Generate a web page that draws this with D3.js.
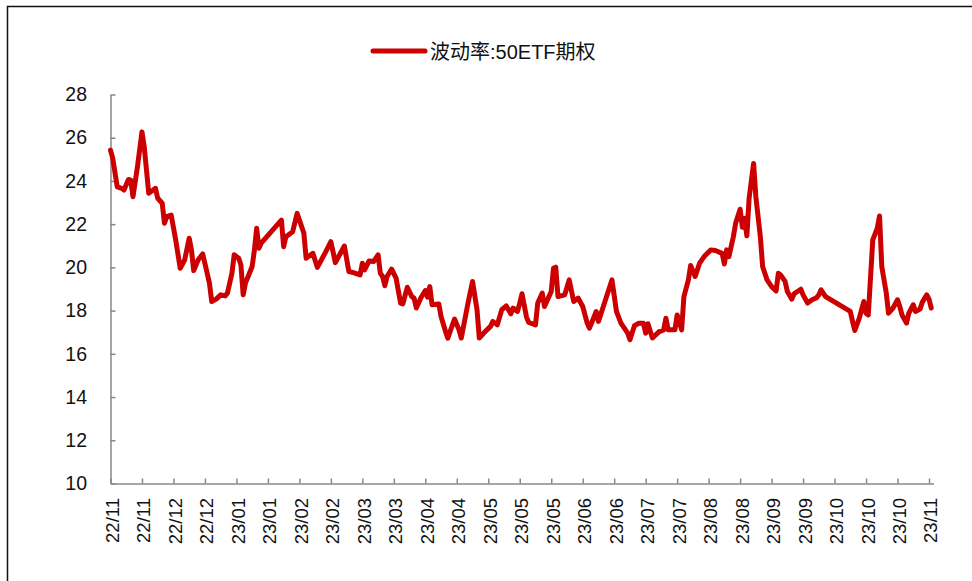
<!DOCTYPE html>
<html><head><meta charset="utf-8">
<script src="https://cdn.jsdelivr.net/npm/d3@7"></script>
<style>body{margin:0;background:#fff;} svg{display:block;}</style>
</head><body><svg id="c" width="972" height="581"></svg>
<script>
const seriesName = "波动率:50ETF期权";
const startDate = "2022-11-14";
const endDate = "2023-11-15";
const tickStepDays = 14;
const tickLabels = ["22/11","22/11","22/12","22/12","23/01","23/01","23/02","23/02","23/03","23/03","23/04","23/04","23/05","23/05","23/05","23/06","23/06","23/07","23/07","23/08","23/08","23/09","23/09","23/10","23/10","23/10","23/11"];
const yTicks = [10,12,14,16,18,20,22,24,26,28];
// days since startDate
const dayOffset = [0,1,3,5,6,8,9,10,12,14,15,17,19,20,21,23,24,25,27,29,31,33,35,36,37,39,41,43,44,45,47,49,51,52,54,55,57,58,59,60,63,64,65,66,67,76,77,78,81,83,86,87,90,92,95,98,100,104,106,108,111,112,113,115,117,119,120,121,122,123,125,127,129,130,132,134,135,136,138,140,141,142,143,146,147,149,150,153,155,156,159,161,163,164,166,169,170,172,174,176,178,179,181,182,183,185,186,189,190,192,193,195,196,197,198,199,202,204,206,208,210,212,213,216,217,223,225,227,230,231,233,235,237,238,239,241,244,246,247,248,251,252,254,255,257,258,260,262,264,267,269,272,273,274,275,277,278,280,281,282,283,284,286,287,289,290,292,294,296,297,298,300,301,303,304,307,308,310,312,314,315,316,318,329,330,331,333,335,336,337,339,341,342,343,345,346,348,350,351,352,354,355,357,358,360,361,363,364,365];
const volatility = [25.43,25.04,23.73,23.66,23.58,24.07,24.04,23.27,24.66,26.27,25.58,23.43,23.58,23.66,23.2,22.97,22.04,22.35,22.42,21.27,19.96,20.35,21.35,20.81,19.85,20.35,20.62,19.73,19.27,18.42,18.53,18.73,18.68,18.81,19.73,20.58,20.42,20.11,18.73,19.27,20.04,20.81,21.81,20.89,21.12,22.19,20.96,21.42,21.65,22.5,21.58,20.42,20.65,20.0,20.58,21.19,20.22,20.99,19.81,19.76,19.65,20.19,19.88,20.3,20.27,20.58,19.73,19.58,19.15,19.58,19.92,19.5,18.35,18.31,19.08,18.65,18.58,18.12,18.58,18.93,18.62,19.11,18.27,18.31,17.73,17.03,16.73,17.61,17.11,16.73,18.35,19.35,18.04,16.73,16.96,17.27,17.5,17.34,18.04,18.22,17.85,18.12,17.96,18.35,18.78,17.7,17.45,17.34,18.35,18.81,18.19,18.65,18.88,19.96,20.01,18.65,18.73,19.42,18.42,18.58,18.19,17.42,17.19,17.96,17.5,19.42,17.96,17.42,16.96,16.65,17.3,17.42,17.42,16.96,17.39,16.73,17.03,17.11,17.65,17.11,17.11,17.8,17.11,18.65,19.42,20.09,19.58,20.2,20.5,20.81,20.78,20.65,20.16,20.81,20.5,21.42,22.04,22.69,21.86,22.27,21.46,23.2,24.81,23.27,21.42,20.04,19.42,19.11,18.91,19.73,19.65,19.35,18.89,18.53,18.78,18.99,18.73,18.35,18.5,18.6,18.73,18.96,18.65,17.96,17.5,17.08,17.65,18.42,17.88,17.8,21.27,21.81,22.38,20.04,18.81,17.88,18.12,18.5,18.19,17.8,17.42,17.88,18.27,17.96,18.07,18.38,18.73,18.53,18.12];

const svg = d3.select("#c");
const FONT = "'Liberation Sans', Arial, 'Noto Sans CJK SC', sans-serif";
const parse = d3.utcParse("%Y-%m-%d");
const t0 = parse(startDate);
const addDays = (d, n) => new Date(d.getTime() + n * 86400000);

const x = d3.scaleUtc().domain([t0, parse(endDate)]).range([110.5, 933.5]);
const y = d3.scaleLinear().domain([10, 28]).range([483.5, 94.5]);

// outer frame
svg.append("rect").attr("x", 7.5).attr("y", 6.5).attr("width", 1100).attr("height", 800)
  .attr("fill", "none").attr("stroke", "#111").attr("stroke-width", 1.5);

// y axis
const yAxis = svg.append("g").attr("transform", `translate(${x.range()[0]},0)`)
  .call(d3.axisLeft(y).tickValues(yTicks).tickSizeInner(-5).tickSizeOuter(0).tickPadding(23.5).tickFormat(d3.format("d")));
yAxis.select(".domain").attr("stroke", "#888").attr("stroke-width", 1.5);
yAxis.selectAll(".tick line").attr("stroke", "#888").attr("stroke-width", 1.5);
yAxis.selectAll("text").attr("font-family", FONT).attr("font-size", 19.5).attr("fill", "#111");

// x axis
const tickDates = tickLabels.map((_, i) => addDays(t0, i * tickStepDays));
const xAxis = svg.append("g").attr("transform", `translate(0,${y.range()[0]})`)
  .call(d3.axisBottom(x).tickValues(tickDates).tickSizeInner(-5).tickSizeOuter(0).tickFormat((d, i) => tickLabels[i]));
xAxis.select(".domain").attr("stroke", "#888").attr("stroke-width", 1.5);
xAxis.selectAll(".tick line").attr("stroke", "#888").attr("stroke-width", 1.5);
xAxis.selectAll("text")
  .attr("font-family", FONT).attr("font-size", 18.5).attr("fill", "#111")
  .attr("transform", "rotate(-90)")
  .attr("text-anchor", "end")
  .attr("x", -14.5).attr("y", 1.5).attr("dy", "0.35em");

// series line
const data = dayOffset.map((d, i) => ({ date: addDays(t0, d), v: volatility[i] }));
svg.append("path").datum(data)
  .attr("fill", "none").attr("stroke", "#CC0000").attr("stroke-width", 5)
  .attr("stroke-linejoin", "round").attr("stroke-linecap", "round")
  .attr("d", d3.line().x(d => x(d.date)).y(d => y(d.v)));

// legend
const lg = svg.append("g");
lg.append("line").attr("x1", 373).attr("x2", 425).attr("y1", 51).attr("y2", 51)
  .attr("stroke", "#CC0000").attr("stroke-width", 5).attr("stroke-linecap", "round");
lg.append("text").attr("x", 430).attr("y", 58.5).attr("font-family", FONT).attr("font-size", 20)
  .attr("fill", "#111").text(seriesName);
</script></body></html>
